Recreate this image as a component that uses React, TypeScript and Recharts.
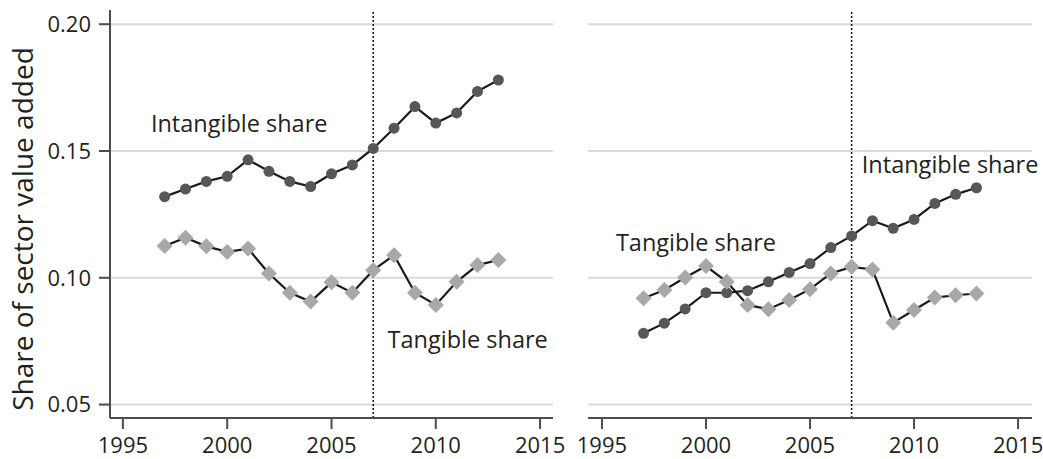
import React from 'react';
import { LineChart, Line, XAxis, YAxis, CartesianGrid, ReferenceLine, ReferenceDot } from 'recharts';

// years shared by both panels
const years = [1997, 1998, 1999, 2000, 2001, 2002, 2003, 2004, 2005, 2006, 2007, 2008, 2009, 2010, 2011, 2012, 2013];

// left panel
const leftIntangible = [0.132, 0.135, 0.138, 0.140, 0.1465, 0.142, 0.138, 0.136, 0.141, 0.1445, 0.151, 0.159, 0.1675, 0.161, 0.165, 0.1735, 0.178];
const leftTangible = [0.1125, 0.1158, 0.1124, 0.1102, 0.1115, 0.1017, 0.0941, 0.0906, 0.0982, 0.0941, 0.103, 0.1089, 0.0941, 0.0893, 0.0984, 0.105, 0.107];

// right panel
const rightIntangible = [0.0781, 0.0821, 0.0877, 0.0941, 0.0941, 0.0949, 0.0984, 0.1021, 0.1056, 0.1119, 0.1165, 0.1225, 0.1195, 0.123, 0.1293, 0.1329, 0.1355];
const rightTangible = [0.0919, 0.0952, 0.1001, 0.1046, 0.0984, 0.0893, 0.0876, 0.0912, 0.0955, 0.1017, 0.1043, 0.1033, 0.0823, 0.0873, 0.0922, 0.0931, 0.0938];

const xTicks = [1995, 2000, 2005, 2010, 2015];
const yTicks = [0.05, 0.1, 0.15, 0.2];
const breakYear = 2007;
const yAxisTitle = 'Share of sector value added';
const intangibleLabel = 'Intangible share';
const tangibleLabel = 'Tangible share';

const FONT = '"Open Sans", sans-serif';
const INK = '#231f20';
const AXIS = '#4d4d4d';
const GRID = '#d9d9d9';
const LINE = '#1a1a1a';

const yDomain: [number, number] = [0.0447, 0.2056];

const toRows = (a: number[], b: number[]) =>
  years.map((year, i) => ({ year, intangible: a[i], tangible: b[i] }));

const leftData = toRows(leftIntangible, leftTangible);
const rightData = toRows(rightIntangible, rightTangible);

const Diamond = (props: any) => {
  const { cx, cy } = props;
  if (cx == null || cy == null) return null;
  const s = 8;
  return <polygon points={`${cx},${cy - s} ${cx + s},${cy} ${cx},${cy + s} ${cx - s},${cy}`} fill="#a8a8a8" />;
};

// text drawn with its baseline-left corner at the reference point
const annotation = (text: string) => (p: any) => (
  <text x={p.cx} y={p.cy} fontSize={23.5} fontFamily={FONT} fill={INK}>{text}</text>
);

const YTitle = (props: any) => {
  const { viewBox } = props;
  const x = viewBox.x + 33;
  const y = viewBox.y + viewBox.height / 2 + 15;
  return (
    <text x={x} y={y} transform={`rotate(-90, ${x}, ${y})`} textAnchor="middle" fontSize={28} fontFamily={FONT} fill={INK}>
      {yAxisTitle}
    </text>
  );
};

const tickStyle = { fill: INK, fontSize: 22, fontFamily: FONT };

type PanelProps = {
  data: { year: number; intangible: number; tangible: number }[];
  width: number;
  margin: { top: number; right: number; bottom: number; left: number };
  xDomain: [number, number];
  showY: boolean;
  labels: { text: string; x: number; y: number }[];
};

const Panel: React.FC<PanelProps> = ({ data, width, margin, xDomain, showY, labels }) => (
  <LineChart width={width} height={459} data={data} margin={margin}>
    <CartesianGrid vertical={false} stroke={GRID} strokeWidth={2} horizontalValues={yTicks} />
    <XAxis
      dataKey="year"
      type="number"
      domain={xDomain}
      ticks={xTicks}
      height={41}
      tick={tickStyle}
      tickSize={11}
      tickMargin={8}
      axisLine={{ stroke: AXIS, strokeWidth: 2 }}
      tickLine={{ stroke: AXIS, strokeWidth: 2 }}
      allowDataOverflow
    />
    <YAxis
      hide={!showY}
      type="number"
      domain={yDomain}
      ticks={yTicks}
      width={110}
      tick={tickStyle}
      tickFormatter={(v: number) => v.toFixed(2)}
      tickSize={11}
      tickMargin={8}
      axisLine={{ stroke: AXIS, strokeWidth: 2 }}
      tickLine={{ stroke: AXIS, strokeWidth: 2 }}
      allowDataOverflow
      label={showY ? (p: any) => <YTitle {...p} /> : undefined}
    />
    <ReferenceLine x={breakYear} stroke="#111" strokeWidth={1.5} strokeDasharray="2 2" />
    <Line
      type="linear"
      dataKey="intangible"
      stroke={LINE}
      strokeWidth={2.2}
      dot={{ r: 5.5, fill: '#575757', stroke: 'none' }}
      isAnimationActive={false}
    />
    <Line
      type="linear"
      dataKey="tangible"
      stroke={LINE}
      strokeWidth={2.2}
      dot={(p: any) => <Diamond key={`d-${p.index}`} {...p} />}
      isAnimationActive={false}
    />
    {labels.map((l) => (
      <ReferenceDot key={l.text} x={l.x} y={l.y} r={0} shape={annotation(l.text)} />
    ))}
  </LineChart>
);

export default function App() {
  return (
    <div style={{ position: 'absolute', left: 0, top: 0, width: 1043, height: 459, background: '#fff' }}>
      <div style={{ position: 'absolute', left: 0, top: 0 }}>
        <Panel
          data={leftData}
          width={570}
          margin={{ top: 10, right: 17, bottom: 0, left: 0 }}
          xDomain={[1994.38, 2015.62]}
          showY
          labels={[
            { text: intangibleLabel, x: 1996.34, y: 0.1574 },
            { text: tangibleLabel, x: 2007.69, y: 0.0722 },
          ]}
        />
      </div>
      <div style={{ position: 'absolute', left: 570, top: 0 }}>
        <Panel
          data={rightData}
          width={473}
          margin={{ top: 10, right: 11, bottom: 0, left: 18 }}
          xDomain={[1994.33, 2015.67]}
          showY={false}
          labels={[
            { text: intangibleLabel, x: 2007.49, y: 0.1412 },
            { text: tangibleLabel, x: 1995.67, y: 0.1107 },
          ]}
        />
      </div>
    </div>
  );
}
